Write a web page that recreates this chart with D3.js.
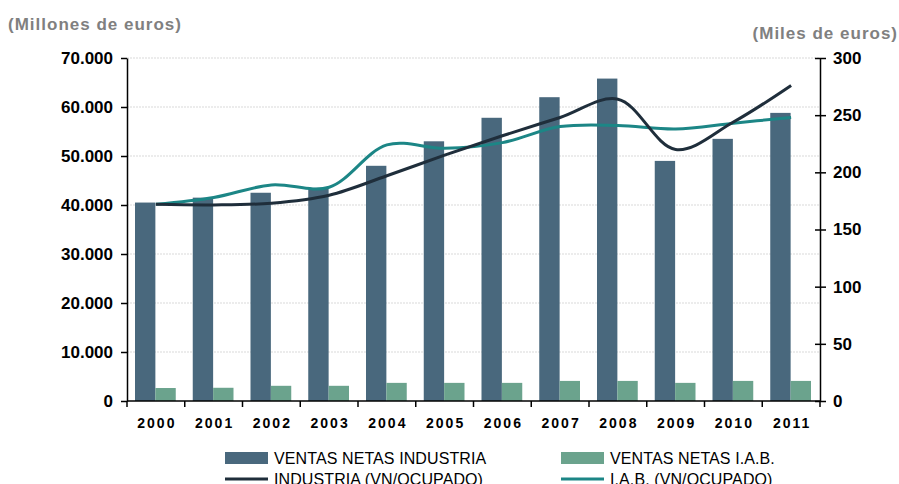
<!DOCTYPE html>
<html>
<head>
<meta charset="utf-8">
<script src="https://cdn.jsdelivr.net/npm/d3@7"></script>
<style>
  body { margin: 0; background: #fff; }
  svg text { font-family: "Liberation Sans", Arial, sans-serif; }
</style>
</head>
<body>
<div id="chart"></div>
<script>
// datos
const years = ["2000","2001","2002","2003","2004","2005","2006","2007","2008","2009","2010","2011"]
const ventasIndustria = [40500, 41500, 42500, 43500, 48000, 53000, 57800, 62000, 65800, 49000, 53500, 58800]
const ventasIAB = [2650, 2700, 3100, 3100, 3700, 3700, 3700, 4100, 4100, 3700, 4100, 4100]
const industriaVN = [172, 171.5, 173, 180, 197, 215, 232, 248, 264, 220, 244, 276]
const iabVN = [172, 178, 189, 187, 224, 221, 226, 240, 241, 238, 243, 248]
const leftTicks = [0, 10000, 20000, 30000, 40000, 50000, 60000, 70000]
const rightTicks = [0, 50, 100, 150, 200, 250, 300]

const W = 899, H = 484
const margin = { top: 58, right: 79, bottom: 83, left: 127 }
const width = W - margin.left - margin.right
const height = H - margin.top - margin.bottom

const colors = {
    barInd: "#49687d",
    barIab: "#6ba38d",
    lineInd: "#1f2e3b",
    lineIab: "#1c8686"
}

const fmt = d => d3.format(",")(d).replace(/,/g, ".")

const svg = d3.select("#chart")
    .append("svg")
    .attr("width", W)
    .attr("height", H)

const g = svg.append("g")
    .attr("transform", `translate(${margin.left}, ${margin.top})`)

const x = d3.scaleBand()
    .domain(years)
    .range([0, width])
    .paddingInner(0)
    .paddingOuter(0)

const xInner = d3.scaleBand()
    .domain(["ind", "iab"])
    .range([8, x.bandwidth() - 9])

const yL = d3.scaleLinear().domain([0, 70000]).range([height, 0])
const yR = d3.scaleLinear().domain([0, 300]).range([height, 0])

/* GRID */
g.append("g")
    .selectAll("line")
    .data(leftTicks.slice(1))
    .join("line")
    .attr("x1", 0)
    .attr("x2", width)
    .attr("y1", d => yL(d))
    .attr("y2", d => yL(d))
    .attr("stroke", "#d9d9d9")
    .attr("stroke-width", 1)
    .attr("stroke-dasharray", "2,1")

/* BARS */
const groups = g.append("g")
    .selectAll("g")
    .data(years)
    .join("g")
    .attr("transform", d => `translate(${x(d)}, 0)`)

groups.append("rect")
    .attr("x", xInner("ind"))
    .attr("width", xInner.bandwidth())
    .attr("y", (d, i) => yL(ventasIndustria[i]))
    .attr("height", (d, i) => height - yL(ventasIndustria[i]))
    .attr("fill", colors.barInd)

groups.append("rect")
    .attr("x", xInner("iab"))
    .attr("width", xInner.bandwidth())
    .attr("y", (d, i) => yL(ventasIAB[i]))
    .attr("height", (d, i) => height - yL(ventasIAB[i]))
    .attr("fill", colors.barIab)

/* LINES */
function addLine(values, color) {
    const line = d3.line()
        .x((d, i) => x(years[i]) + x.bandwidth() / 2)
        .y(d => yR(d))
        .curve(d3.curveCatmullRom.alpha(0.5))
    g.append("path")
        .datum(values)
        .attr("fill", "none")
        .attr("stroke", color)
        .attr("stroke-width", 3)
        .attr("stroke-linejoin", "round")
        .attr("d", line)
}
addLine(iabVN, colors.lineIab)
addLine(industriaVN, colors.lineInd)

/* AXES */
const xAxis = g.append("g")
    .attr("transform", `translate(0, ${height})`)
xAxis.append("line")
    .attr("x1", 0).attr("x2", width)
    .attr("stroke", "#000").attr("stroke-width", 1.5)
xAxis.selectAll(".tk")
    .data(years.concat(["end"]))
    .join("line")
    .attr("x1", (d, i) => i * x.step())
    .attr("x2", (d, i) => i * x.step())
    .attr("y1", 0).attr("y2", 6)
    .attr("stroke", "#000").attr("stroke-width", 1.5)
xAxis.selectAll("text")
    .data(years)
    .join("text")
    .attr("x", d => x(d) + x.bandwidth() / 2 + 1)
    .attr("y", 27)
    .attr("text-anchor", "middle")
    .style("font-size", "14px")
    .style("font-weight", "bold")
    .style("letter-spacing", "2px")
    .text(d => d)

const yAxisL = g.append("g")
    .call(d3.axisLeft(yL).tickValues(leftTicks).tickFormat(fmt).tickSize(6).tickSizeOuter(0))
yAxisL.select(".domain").attr("stroke-width", 1.5)
yAxisL.selectAll(".tick line").attr("stroke-width", 1.5)
yAxisL.selectAll(".tick text")
    .attr("x", -14)
    .style("font-size", "17px")
    .style("font-weight", "bold")
    .style("font-family", "Liberation Sans, Arial, sans-serif")
    .attr("fill", "#000")

const yAxisR = g.append("g")
    .attr("transform", `translate(${width}, 0)`)
    .call(d3.axisRight(yR).tickValues(rightTicks).tickSize(6).tickSizeOuter(0))
yAxisR.select(".domain").attr("stroke-width", 1.5)
yAxisR.selectAll(".tick line").attr("x1", -5).attr("stroke-width", 1.5)
yAxisR.selectAll(".tick text")
    .attr("x", 13)
    .style("font-size", "17px")
    .style("font-weight", "bold")
    .style("font-family", "Liberation Sans, Arial, sans-serif")
    .attr("fill", "#000")

/* UNIT TITLES */
svg.append("text")
    .attr("x", 8).attr("y", 30)
    .attr("fill", "#808080")
    .style("font-size", "17px").style("font-weight", "bold")
    .style("letter-spacing", "1px")
    .text("(Millones de euros)")

svg.append("text")
    .attr("x", 898).attr("y", 39)
    .attr("text-anchor", "end")
    .attr("fill", "#808080")
    .style("font-size", "17px").style("font-weight", "bold")
    .style("letter-spacing", "1px")
    .text("(Miles de euros)")

/* LEGEND */
const legendItems = [
    { label: "VENTAS NETAS INDUSTRIA", color: colors.barInd, type: "rect", x: 225, y: 458 },
    { label: "VENTAS NETAS I.A.B.", color: colors.barIab, type: "rect", x: 561, y: 458 },
    { label: "INDUSTRIA (VN/OCUPADO)", color: colors.lineInd, type: "line", x: 225, y: 479 },
    { label: "I.A.B. (VN/OCUPADO)", color: colors.lineIab, type: "line", x: 561, y: 479 }
]
const legend = svg.append("g")
legendItems.forEach(it => {
    if (it.type === "rect") {
        legend.append("rect")
            .attr("x", it.x).attr("y", it.y - 6)
            .attr("width", 43).attr("height", 12)
            .attr("fill", it.color)
    } else {
        legend.append("line")
            .attr("x1", it.x).attr("x2", it.x + 43)
            .attr("y1", it.y).attr("y2", it.y)
            .attr("stroke", it.color).attr("stroke-width", 3)
    }
    legend.append("text")
        .attr("x", it.x + 49).attr("y", it.y + 6)
        .style("font-size", "16px")
        .style("letter-spacing", "0.1px")
        .attr("fill", "#000")
        .text(it.label)
})
</script>
</body>
</html>
